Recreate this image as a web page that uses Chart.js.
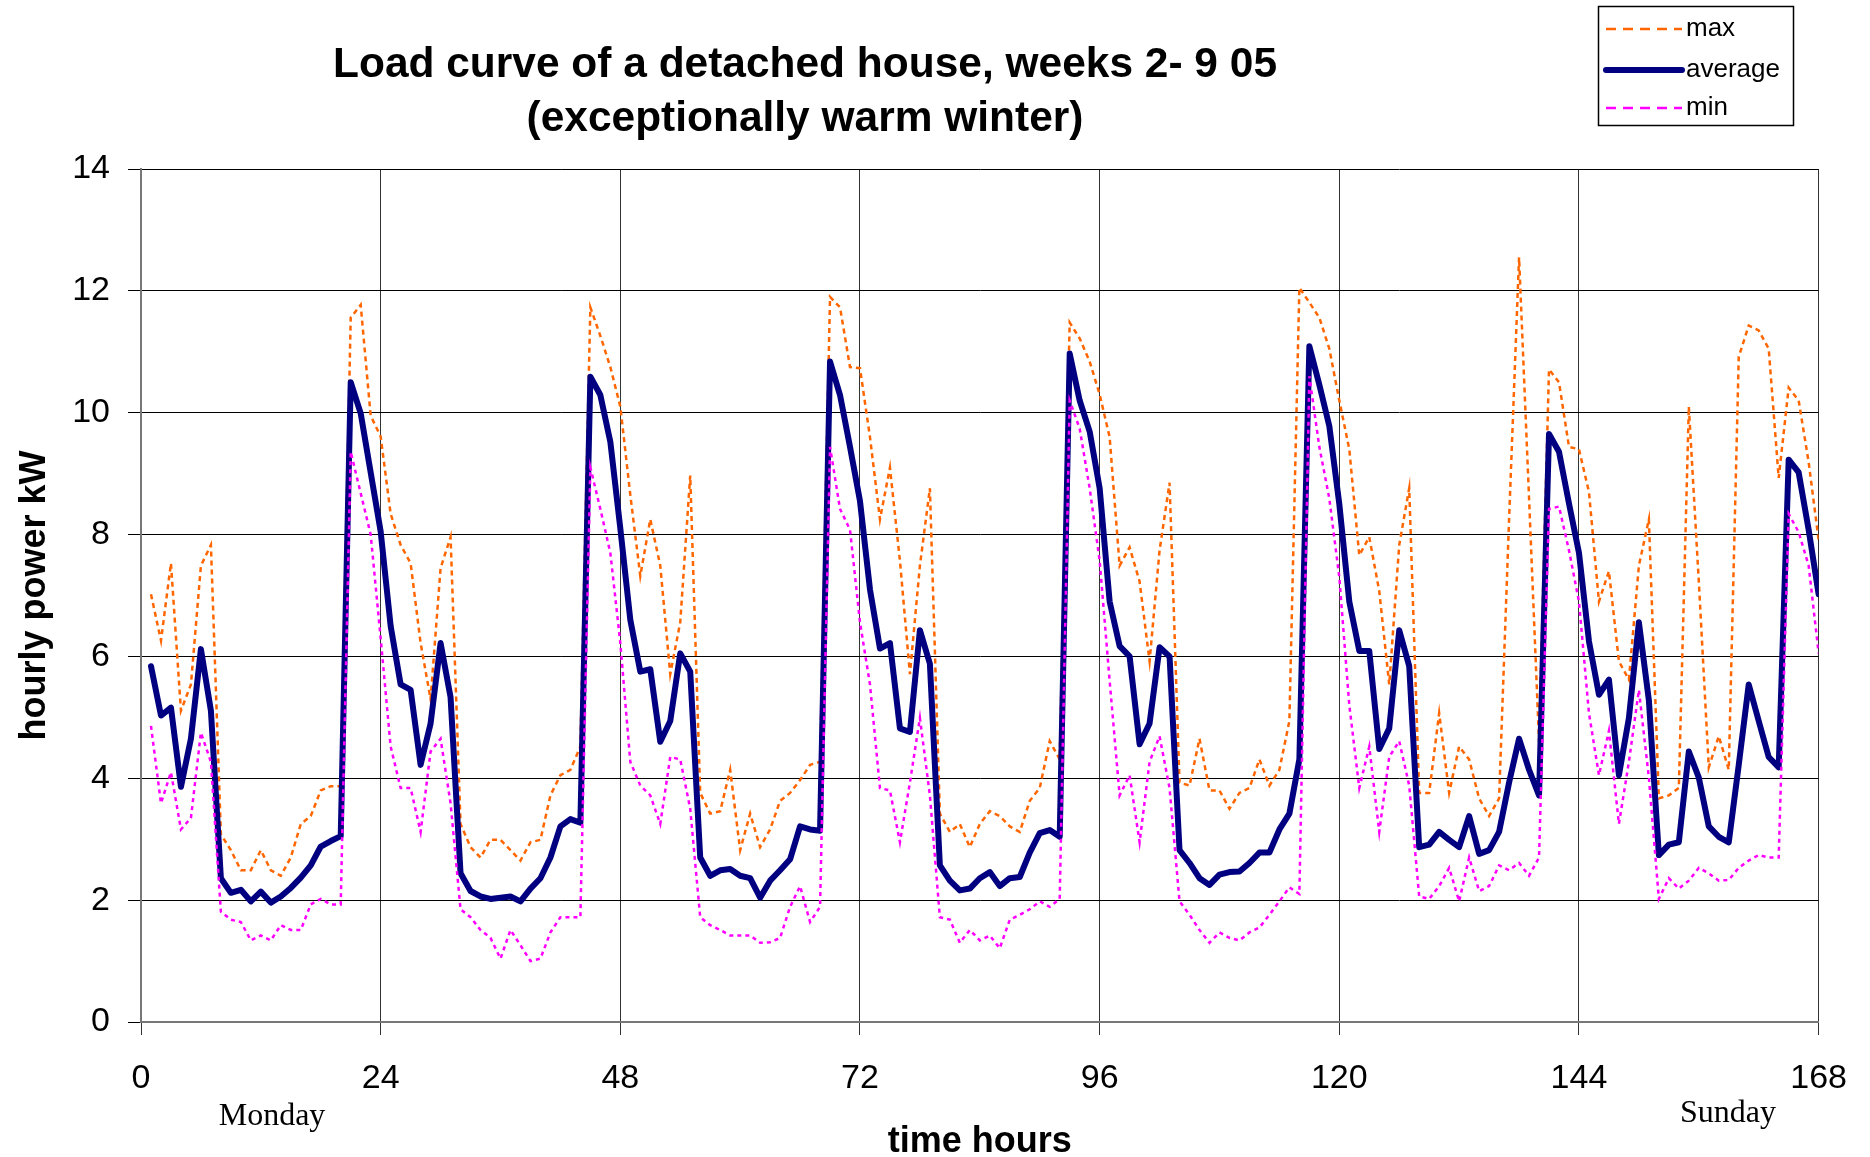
<!DOCTYPE html>
<html>
<head>
<meta charset="utf-8">
<title>Load curve of a detached house</title>
<script src="https://cdn.jsdelivr.net/npm/chart.js@4.4.1/dist/chart.umd.min.js"></script>
<style>
    html, body { margin: 0; padding: 0; background: #fff; }
    canvas { display: block; }
</style>
</head>
<body>
<canvas id="loadChart" width="1870" height="1157"></canvas>
<script>
// Load curve data, hourly power in kW (hours 1..168)
const titleLines = ['Load curve of a detached house, weeks 2- 9 05', '(exceptionally warm winter)'];
const seriesNames = ['max', 'average', 'min'];
const hourTicks = [0, 24, 48, 72, 96, 120, 144, 168];
const dayLabels = ['Monday', 'Sunday'];

const maxValues = [
    7.02, 6.26, 7.53, 5.11, 5.54, 7.49, 7.83, 3.08, 2.82, 2.49, 2.49, 2.82, 2.49, 2.40, 2.70, 3.25, 3.38, 3.80, 3.87, 3.87, 11.56, 11.77, 9.95, 9.61,
    8.34, 7.83, 7.53, 6.22, 5.30, 7.45, 7.96, 3.25, 2.87, 2.70, 2.99, 2.99, 2.82, 2.65, 2.95, 2.99, 3.72, 4.05, 4.14, 4.52, 11.73, 11.26, 10.75, 10.10,
    8.65, 7.32, 8.25, 7.49, 5.71, 6.56, 8.97, 3.76, 3.42, 3.46, 4.14, 2.82, 3.42, 2.87, 3.16, 3.63, 3.76, 3.97, 4.22, 4.27, 11.90, 11.73, 10.75, 10.73,
    9.60, 8.25, 9.10, 7.57, 5.71, 7.49, 8.76, 3.42, 3.12, 3.25, 2.87, 3.25, 3.46, 3.38, 3.21, 3.12, 3.63, 3.84, 4.61, 4.31, 11.48, 11.22, 10.84, 10.30,
    9.60, 7.49, 7.79, 7.23, 5.92, 7.74, 8.85, 3.93, 3.88, 4.65, 3.80, 3.80, 3.50, 3.76, 3.84, 4.31, 3.88, 4.14, 4.94, 12.05, 11.81, 11.56, 11.05, 10.20,
    9.40, 7.66, 7.96, 7.07, 5.54, 7.83, 8.76, 3.76, 3.76, 5.07, 3.76, 4.52, 4.31, 3.67, 3.38, 3.67, 8.25, 12.55, 8.60, 4.60, 10.71, 10.50, 9.44, 9.40,
    8.70, 6.90, 7.40, 5.92, 5.62, 7.49, 8.25, 3.67, 3.72, 3.84, 10.10, 7.23, 4.18, 4.69, 4.14, 10.92, 11.43, 11.35, 11.05, 8.93, 10.41, 10.20, 9.19, 7.91
];

const averageValues = [
    5.84, 5.03, 5.16, 3.86, 4.65, 6.12, 5.11, 2.36, 2.12, 2.17, 1.98, 2.14, 1.96, 2.06, 2.20, 2.37, 2.57, 2.88, 2.97, 3.05, 10.50, 9.99, 9.02, 8.05,
    6.50, 5.54, 5.45, 4.22, 4.90, 6.22, 5.33, 2.44, 2.15, 2.06, 2.02, 2.04, 2.06, 1.98, 2.19, 2.36, 2.70, 3.21, 3.33, 3.27, 10.59, 10.29, 9.52, 8.10,
    6.60, 5.75, 5.79, 4.60, 4.94, 6.05, 5.75, 2.70, 2.40, 2.49, 2.51, 2.40, 2.36, 2.04, 2.32, 2.49, 2.67, 3.21, 3.16, 3.14, 10.84, 10.29, 9.44, 8.55,
    7.10, 6.13, 6.22, 4.82, 4.76, 6.43, 5.88, 2.57, 2.32, 2.16, 2.19, 2.36, 2.46, 2.23, 2.36, 2.38, 2.78, 3.10, 3.15, 3.04, 10.97, 10.20, 9.69, 8.76,
    6.90, 6.17, 6.00, 4.56, 4.90, 6.15, 6.00, 2.82, 2.61, 2.36, 2.25, 2.42, 2.46, 2.47, 2.61, 2.78, 2.78, 3.16, 3.42, 4.31, 11.09, 10.46, 9.78, 8.50,
    6.90, 6.09, 6.09, 4.48, 4.82, 6.43, 5.84, 2.87, 2.91, 3.12, 2.99, 2.87, 3.38, 2.76, 2.82, 3.12, 3.93, 4.65, 4.14, 3.72, 9.65, 9.36, 8.51, 7.70,
    6.25, 5.37, 5.62, 4.05, 4.99, 6.56, 5.28, 2.74, 2.91, 2.95, 4.44, 4.01, 3.21, 3.04, 2.95, 4.22, 5.54, 4.94, 4.35, 4.18, 9.23, 9.02, 8.08, 7.02
];

const minValues = [
    4.86, 3.59, 4.10, 3.16, 3.35, 4.75, 4.27, 1.81, 1.68, 1.64, 1.34, 1.42, 1.34, 1.59, 1.51, 1.51, 1.93, 2.02, 1.93, 1.93, 9.36, 8.68, 8.00, 6.30,
    4.52, 3.84, 3.84, 3.12, 4.44, 4.65, 3.59, 1.85, 1.72, 1.51, 1.38, 1.04, 1.51, 1.26, 1.00, 1.04, 1.47, 1.72, 1.72, 1.72, 9.10, 8.42, 7.70, 6.22,
    4.27, 3.88, 3.72, 3.25, 4.35, 4.31, 3.50, 1.72, 1.59, 1.51, 1.42, 1.42, 1.42, 1.30, 1.31, 1.38, 1.89, 2.23, 1.64, 1.89, 9.44, 8.42, 8.08, 6.56,
    5.54, 3.84, 3.80, 2.95, 3.93, 4.99, 3.72, 1.72, 1.68, 1.30, 1.51, 1.34, 1.42, 1.21, 1.68, 1.76, 1.85, 1.98, 1.89, 2.02, 10.20, 9.74, 8.76, 7.57,
    5.60, 3.72, 4.05, 2.95, 4.27, 4.69, 3.84, 1.98, 1.76, 1.51, 1.30, 1.47, 1.38, 1.34, 1.47, 1.55, 1.76, 1.98, 2.21, 2.10, 10.60, 9.44, 8.59, 7.30,
    5.20, 3.84, 4.52, 3.12, 4.35, 4.61, 3.88, 2.06, 2.02, 2.23, 2.53, 1.98, 2.70, 2.15, 2.23, 2.57, 2.49, 2.61, 2.40, 2.70, 8.42, 8.46, 7.74, 6.90,
    5.07, 4.05, 4.78, 3.25, 4.27, 5.45, 4.01, 2.02, 2.36, 2.19, 2.32, 2.53, 2.44, 2.32, 2.33, 2.53, 2.65, 2.74, 2.70, 2.70, 8.34, 8.04, 7.49, 6.05
];

// hour numbers 1..168 for the x positions
const hours = maxValues.map((v, i) => i + 1);

const toPoints = values => values.map((v, i) => ({ x: hours[i], y: v }));

const FONT_SANS = '"Liberation Sans", Arial, sans-serif';
const FONT_SERIF = '"Liberation Serif", "Times New Roman", serif';

// Title, legend box and day names drawn on top of the chart
const annotationsPlugin = {
    id: 'annotations',
    afterDraw(chart) {
        const ctx = chart.ctx;
        ctx.save();

        // Title (the original uses a narrow bold face)
        ctx.font = 'bold 43px ' + FONT_SANS;
        ctx.fillStyle = '#000';
        ctx.textAlign = 'center';
        ctx.textBaseline = 'middle';
        const sx = Math.min(1, 944 / ctx.measureText(titleLines[0]).width);
        const titleY = [65, 119];
        titleLines.forEach((line, i) => {
            ctx.save();
            ctx.translate(805, titleY[i]);
            ctx.scale(sx, 1);
            ctx.fillText(line, 0, 0);
            ctx.restore();
        });

        // Legend box
        ctx.lineWidth = 1.5;
        ctx.strokeStyle = '#000';
        ctx.strokeRect(1598.5, 6.5, 195, 119);
        const rowY = [29, 70, 108];
        ctx.font = '26px ' + FONT_SANS;
        ctx.textAlign = 'left';
        chart.data.datasets.forEach((ds, i) => {
            ctx.beginPath();
            ctx.strokeStyle = ds.borderColor;
            ctx.lineWidth = ds.borderWidth;
            ctx.lineCap = ds.borderDash.length ? 'butt' : 'round';
            ctx.setLineDash(ds.borderDash.length ? [10, 7] : []);
            ctx.moveTo(1606, rowY[i]);
            ctx.lineTo(1682, rowY[i]);
            ctx.stroke();
            ctx.setLineDash([]);
            ctx.fillStyle = '#000';
            ctx.fillText(ds.label, 1686, rowY[i]);
        });

        // Day names under the hour axis
        ctx.font = '32px ' + FONT_SERIF;
        ctx.textAlign = 'center';
        ctx.fillText(dayLabels[0], 272, 1117);
        ctx.fillText(dayLabels[1], 1728, 1114);

        ctx.restore();
    }
};

const ctx = document.getElementById('loadChart').getContext('2d');
const chart = new Chart(ctx, {
    type: 'line',
    data: {
        datasets: [{
            label: seriesNames[0],
            data: toPoints(maxValues),
            borderColor: '#FF6600',
            borderWidth: 2.5,
            borderDash: [5, 4],
            order: 2,
        }, {
            label: seriesNames[1],
            data: toPoints(averageValues),
            borderColor: '#000080',
            borderWidth: 6,
            borderDash: [],
            borderJoinStyle: 'round',
            borderCapStyle: 'round',
            order: 1,
        }, {
            label: seriesNames[2],
            data: toPoints(minValues),
            borderColor: '#FF00FF',
            borderWidth: 2.5,
            borderDash: [4, 4],
            order: 0,
        }]
    },
    options: {
        responsive: false,
        animation: false,
        devicePixelRatio: 1,
        layout: {
            padding: { top: 169, right: 49, left: 0, bottom: 0 }
        },
        elements: {
            point: { radius: 0 },
            line: { tension: 0, fill: false }
        },
        plugins: {
            legend: { display: false },
            title: { display: false },
            tooltip: { enabled: false }
        },
        scales: {
            x: {
                type: 'linear',
                min: 0,
                max: 168,
                afterBuildTicks: scale => {
                    scale.ticks = hourTicks.map(v => ({ value: v }));
                },
                afterFit: scale => {
                    scale.height = 135;
                },
                ticks: {
                    autoSkip: false,
                    maxRotation: 0,
                    padding: 23,
                    color: '#000',
                    font: { family: FONT_SANS, size: 34 }
                },
                grid: {
                    color: '#333',
                    lineWidth: 1,
                    tickLength: 13,
                    tickColor: '#333'
                },
                border: { color: '#777', width: 2 },
                title: {
                    display: true,
                    text: 'time hours',
                    color: '#000',
                    font: { family: FONT_SANS, size: 36, weight: 'bold', lineHeight: 0.85 },
                    padding: { top: 0, bottom: 0 }
                }
            },
            y: {
                min: 0,
                max: 14,
                afterFit: scale => {
                    scale.width = 141;
                },
                ticks: {
                    stepSize: 2,
                    padding: 18,
                    color: '#000',
                    font: { family: FONT_SANS, size: 34 }
                },
                grid: {
                    color: '#000',
                    lineWidth: 1,
                    tickLength: 13,
                    tickColor: '#000'
                },
                border: { color: '#777', width: 2 },
                title: {
                    display: true,
                    text: 'hourly power kW',
                    color: '#000',
                    font: { family: FONT_SANS, size: 36, weight: 'bold', lineHeight: 1 },
                    padding: { top: 17, bottom: 0 }
                }
            }
        }
    },
    plugins: [annotationsPlugin]
});
</script>
</body>
</html>
